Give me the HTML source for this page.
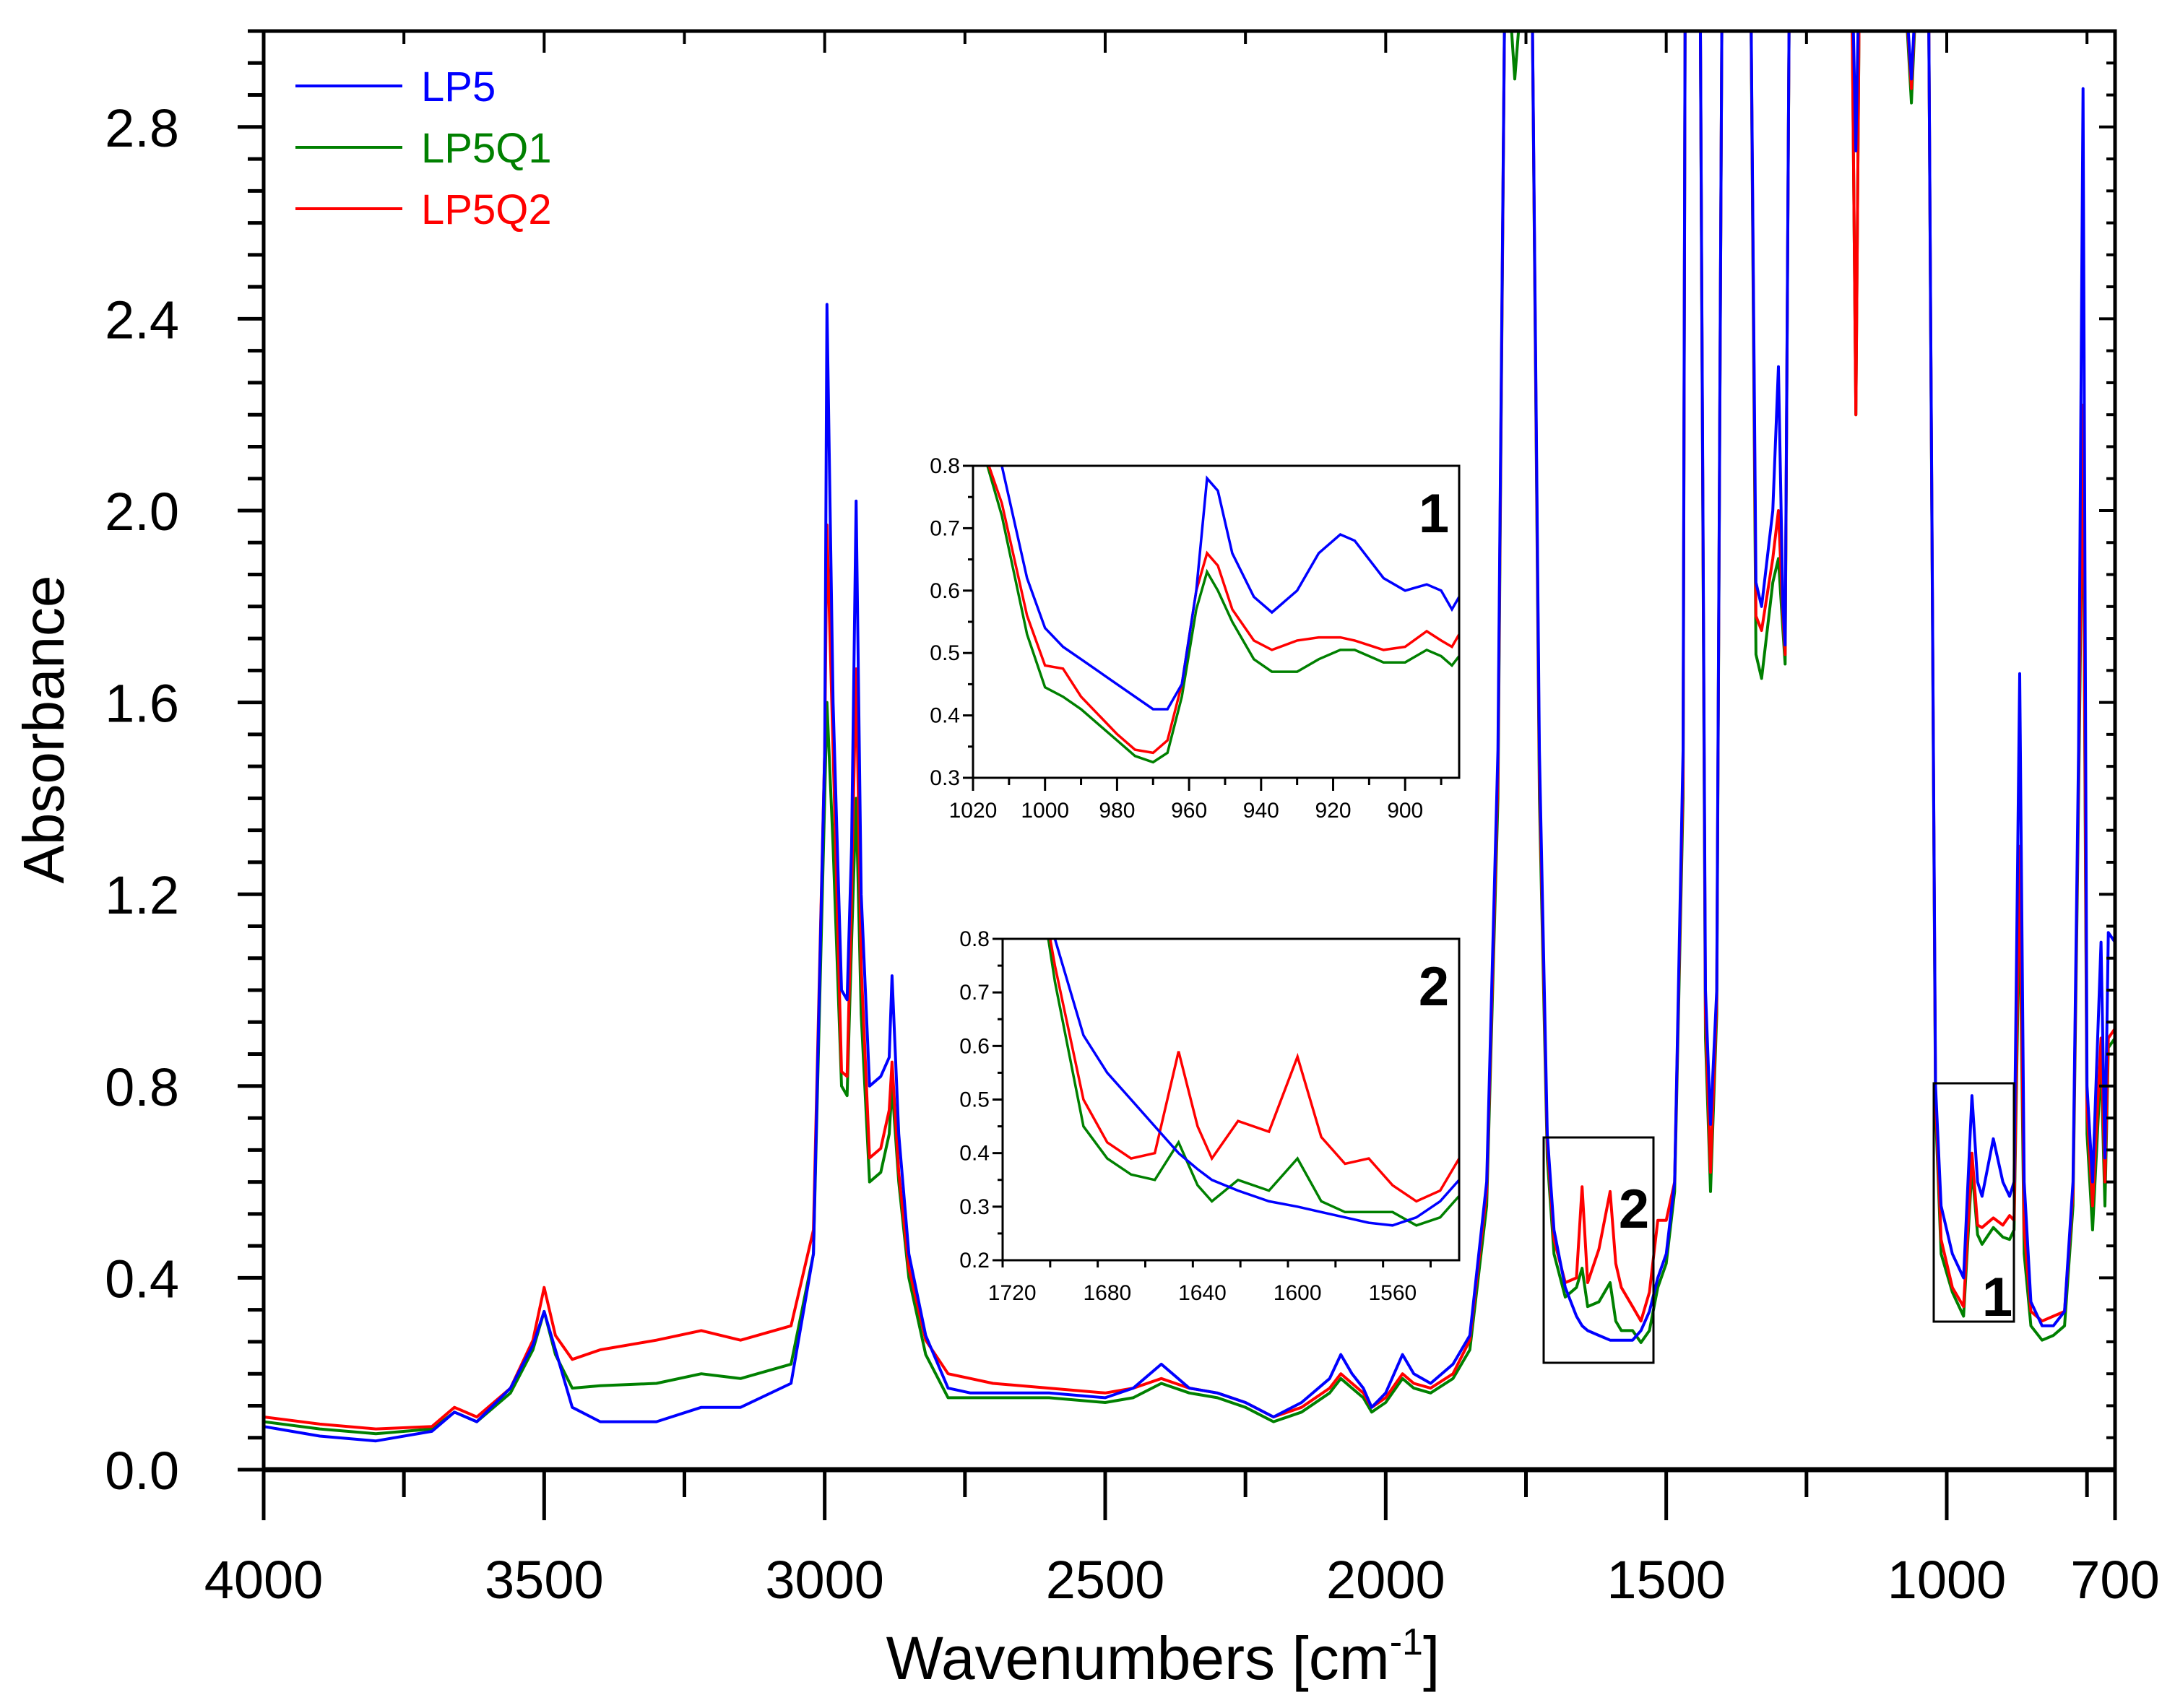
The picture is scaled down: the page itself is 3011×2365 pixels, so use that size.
<!DOCTYPE html>
<html><head><meta charset="utf-8"><style>
html,body{margin:0;padding:0;background:#fff}
svg{display:block;font-family:"Liberation Sans",Arial,sans-serif}
</style></head><body>
<svg id="chart" width="3011" height="2365" viewBox="0 0 3011 2365" xmlns="http://www.w3.org/2000/svg">
<rect width="3011" height="2365" fill="#fff"/>
<g id="main"></g>
</svg>
<script>
// ---- main chart data ----
const mainWn = [4000,3900,3800,3700,3660,3620,3560,3520,3500,3480,3450,3400,3300,3220,3150,3060,3020,3000,2996,2985,2970,2960,2952,2944,2935,2920,2900,2885,2880,2868,2850,2820,2780,2740,2700,2600,2500,2450,2400,2350,2300,2250,2200,2150,2100,2080,2060,2040,2025,2000,1970,1950,1920,1880,1850,1820,1800,1787,1770,1750,1740,1726,1712,1700,1680,1660,1650,1640,1620,1600,1590,1580,1560,1545,1530,1515,1500,1485,1470,1466,1440,1430,1421,1410,1400,1350,1340,1330,1310,1300,1292,1288,1280,1276,1200,1170,1162,1155,1080,1063,1050,1033,1020,1010,990,970,955,945,937,917,900,888,880,870,862,850,830,810,790,775,765,757,750,740,725,718,712,700];
const lp5 = [0.09,0.07,0.06,0.08,0.12,0.10,0.17,0.26,0.33,0.25,0.13,0.10,0.10,0.13,0.13,0.18,0.45,1.5,2.43,1.6,1.0,0.98,1.3,2.02,1.2,0.8,0.82,0.86,1.03,0.7,0.45,0.28,0.17,0.16,0.16,0.16,0.15,0.17,0.22,0.17,0.16,0.14,0.11,0.14,0.19,0.24,0.2,0.17,0.13,0.16,0.24,0.2,0.18,0.22,0.28,0.6,1.5,3.2,3.2,3.2,3.2,1.5,0.7,0.5,0.38,0.32,0.30,0.29,0.28,0.27,0.27,0.27,0.27,0.29,0.33,0.40,0.45,0.6,1.5,3.2,3.2,1.0,0.72,1.0,3.2,3.2,1.85,1.8,2.0,2.3,1.8,1.72,3.2,3.2,3.2,3.2,2.75,3.2,3.2,2.9,3.2,3.2,0.8,0.55,0.45,0.40,0.78,0.6,0.57,0.69,0.6,0.57,0.6,1.66,0.6,0.35,0.30,0.30,0.33,0.6,1.5,2.88,0.8,0.6,1.1,0.65,1.12,1.1];
const lp5q1 = [0.1,0.085,0.075,0.085,0.12,0.10,0.16,0.25,0.33,0.24,0.17,0.175,0.18,0.20,0.19,0.22,0.45,1.4,1.6,1.3,0.8,0.78,1.1,1.4,0.95,0.6,0.62,0.7,0.8,0.6,0.4,0.24,0.15,0.15,0.15,0.15,0.14,0.15,0.18,0.16,0.15,0.13,0.10,0.12,0.16,0.19,0.17,0.15,0.12,0.14,0.19,0.17,0.16,0.19,0.25,0.55,1.4,3.2,2.9,3.2,3.2,1.4,0.65,0.45,0.36,0.38,0.42,0.34,0.35,0.39,0.31,0.29,0.29,0.265,0.29,0.38,0.43,0.58,1.4,3.2,3.2,0.9,0.58,0.95,3.2,3.2,1.7,1.65,1.85,1.9,1.75,1.68,3.2,3.2,3.2,3.2,2.2,3.2,3.2,2.85,3.2,3.2,0.75,0.45,0.37,0.32,0.63,0.49,0.47,0.505,0.485,0.48,0.5,1.2,0.45,0.3,0.27,0.28,0.3,0.55,1.4,2.15,0.7,0.5,0.85,0.55,0.88,0.9];
const lp5q2 = [0.11,0.095,0.085,0.09,0.13,0.11,0.17,0.27,0.38,0.28,0.23,0.25,0.27,0.29,0.27,0.30,0.5,1.5,1.97,1.5,0.83,0.82,1.2,1.67,1.05,0.65,0.67,0.75,0.85,0.62,0.42,0.27,0.2,0.19,0.18,0.17,0.16,0.17,0.19,0.17,0.16,0.14,0.11,0.13,0.17,0.2,0.18,0.16,0.13,0.15,0.2,0.18,0.17,0.2,0.27,0.58,1.45,3.2,3.0,3.2,3.2,1.45,0.68,0.48,0.39,0.40,0.59,0.39,0.46,0.58,0.43,0.38,0.34,0.31,0.37,0.52,0.52,0.6,1.45,3.2,3.2,0.95,0.62,0.98,3.2,3.2,1.78,1.75,1.9,2.0,1.78,1.7,3.2,3.2,3.2,3.2,2.2,3.2,3.2,2.88,3.2,3.2,0.78,0.48,0.38,0.34,0.66,0.51,0.505,0.525,0.51,0.53,0.52,1.3,0.5,0.33,0.31,0.32,0.33,0.58,1.45,2.22,0.75,0.55,0.9,0.6,0.9,0.92];
const xTicks = [4000,3500,3000,2500,2000,1500,1000,700];
const yTicks = [0.0,0.4,0.8,1.2,1.6,2.0,2.4,2.8];
const seriesNames = ["LP5","LP5Q1","LP5Q2"];
const seriesColors = ["#0000ff","#008000","#ff0000"];
// ---- inset 1 data ----
const in1Wn = [1018,1012,1005,1000,995,990,980,975,970,966,962,958,955,952,948,942,937,930,924,918,914,906,900,894,890,887,885];
const in1Lp5 = [0.95,0.8,0.62,0.54,0.51,0.49,0.45,0.43,0.41,0.41,0.45,0.6,0.78,0.76,0.66,0.59,0.565,0.6,0.66,0.69,0.68,0.62,0.6,0.61,0.6,0.57,0.59];
const in1Lp5q1 = [0.84,0.72,0.53,0.445,0.43,0.41,0.36,0.335,0.325,0.34,0.43,0.57,0.63,0.6,0.55,0.49,0.47,0.47,0.49,0.505,0.505,0.485,0.485,0.505,0.495,0.48,0.495];
const in1Lp5q2 = [0.84,0.74,0.56,0.48,0.475,0.43,0.37,0.345,0.34,0.36,0.45,0.6,0.66,0.64,0.57,0.52,0.505,0.52,0.525,0.525,0.52,0.505,0.51,0.535,0.52,0.51,0.53];
const in1XTicks = [1020,1000,980,960,940,920,900];
const in1YTicks = [0.3,0.4,0.5,0.6,0.7,0.8];
// ---- inset 2 data ----
const in2Wn = [1710,1702,1690,1680,1670,1660,1650,1642,1636,1625,1612,1600,1590,1580,1570,1560,1550,1540,1532];
const in2Lp5 = [0.95,0.8,0.62,0.55,0.5,0.45,0.4,0.37,0.35,0.33,0.31,0.3,0.29,0.28,0.27,0.265,0.28,0.31,0.35];
const in2Lp5q1 = [0.95,0.72,0.45,0.39,0.36,0.35,0.42,0.34,0.31,0.35,0.33,0.39,0.31,0.29,0.29,0.29,0.265,0.28,0.32];
const in2Lp5q2 = [0.95,0.75,0.5,0.42,0.39,0.40,0.59,0.45,0.39,0.46,0.44,0.58,0.43,0.38,0.39,0.34,0.31,0.33,0.39];
const in2XTicks = [1720,1680,1640,1600,1560];
const in2YTicks = [0.2,0.3,0.4,0.5,0.6,0.7,0.8];

const NS="http://www.w3.org/2000/svg";
const svg=document.getElementById('chart');
function mk(tag,attrs,parent){const e=document.createElementNS(NS,tag);for(const k in attrs)e.setAttribute(k,attrs[k]);(parent||svg).appendChild(e);return e;}
function txt(s,attrs,parent){const e=mk('text',attrs,parent);e.textContent=s;return e;}

// main axes
const L=365,R=2928,T=43,B=2035;
const xMin=700,xMax=4000,yMin=0,yMax=3.0;
const sx=w=>L+(xMax-w)/(xMax-xMin)*(R-L);
const sy=v=>B-(v-yMin)/(yMax-yMin)*(B-T);
const defs=mk('defs',{});
const cp=mk('clipPath',{id:'clipMain'},defs);mk('rect',{x:L,y:T,width:R-L,height:B-T},cp);

const seriesMain=[lp5,lp5q1,lp5q2];
[1,2,0].forEach(i=>{
  const d=mainWn.map((w,j)=>(j?'L':'M')+sx(w).toFixed(1)+','+sy(seriesMain[i][j]).toFixed(1)).join('');
  const p=mk('path',{d:d,fill:'none',stroke:seriesColors[i],'stroke-width':4,'stroke-linejoin':'round','clip-path':'url(#clipMain)'});
  
  
});
// frame
const fr=mk('rect',{x:L,y:T,width:R-L,height:B-T,fill:'none',stroke:'#000','stroke-width':5});

mk('line',{x1:L,y1:B,x2:R,y2:B,stroke:'#000','stroke-width':7});
// x ticks
for(let w=4000;w>=700;w-=250){
  const major=(w%500===0);
  mk('line',{x1:sx(w),y1:B,x2:sx(w),y2:B+(major?70:38),stroke:'#000','stroke-width':5});
  mk('line',{x1:sx(w),y1:T,x2:sx(w),y2:T+(major?30:18),stroke:'#000','stroke-width':4});
}
mk('line',{x1:sx(700),y1:B,x2:sx(700),y2:B+70,stroke:'#000','stroke-width':5});
xTicks.forEach(w=>{
  const t=txt(String(w),{x:sx(w),y:2213,'font-size':74,'text-anchor':'middle'});
  
});
// y ticks
for(let k=0;k<=45;k++){
  const v=k*0.4/6; if(v>3.0001)break;
  const major=(k%6===0);
  mk('line',{x1:L,y1:sy(v),x2:L-(major?36:22),y2:sy(v),stroke:'#000','stroke-width':5});
  mk('line',{x1:R,y1:sy(v),x2:R-(major?22:12),y2:sy(v),stroke:'#000','stroke-width':4});
}
yTicks.forEach(v=>{
  const t=txt(v.toFixed(1),{x:248,y:sy(v)+27,'font-size':74,'text-anchor':'end'});
  
});
const yt=txt('Absorbance',{x:0,y:0,'font-size':80,'text-anchor':'middle',transform:'translate(88,1010) rotate(-90)'});

const xt=mk('text',{x:1610,y:2325,'font-size':84,'text-anchor':'middle'});

xt.innerHTML='Wavenumbers [cm<tspan dy="-34" font-size="52">-1</tspan><tspan dy="34">]</tspan>';

// legend
seriesNames.forEach((n,i)=>{
  const y=119+i*85;
  const g=mk('g',{});
  
  
  mk('line',{x1:409,y1:y,x2:557,y2:y,stroke:seriesColors[i],'stroke-width':4},g);
  txt(n,{x:583,y:y+21,'font-size':58,fill:seriesColors[i]},g);
});

// region boxes
const b2=mk('rect',{x:2137,y:1575,width:152,height:312,fill:'none',stroke:'#000','stroke-width':3});

const b1=mk('rect',{x:2677,y:1500,width:111,height:330,fill:'none',stroke:'#000','stroke-width':3});

txt('2',{x:2262,y:1700,'font-size':76,'font-weight':'bold','text-anchor':'middle'});
txt('1',{x:2765,y:1822,'font-size':76,'font-weight':'bold','text-anchor':'middle'});

// insets
function inset(id,box,xr,yr,wn,series,xt,minorX,yt,minorY,label){
  const g=mk('g',{});
  
  
  const [x0,y0,x1,y1]=box;
  const fx=w=>x0+(xr[0]-w)/(xr[0]-xr[1])*(x1-x0);
  const fy=v=>y1-(v-yr[0])/(yr[1]-yr[0])*(y1-y0);
  const c=mk('clipPath',{id:'clip'+id},defs);mk('rect',{x:x0,y:y0,width:x1-x0,height:y1-y0},c);
  mk('rect',{x:x0,y:y0,width:x1-x0,height:y1-y0,fill:'#fff'},g);
  [1,2,0].forEach(i=>{
    const d=wn.map((w,j)=>(j?'L':'M')+fx(w).toFixed(1)+','+fy(series[i][j]).toFixed(1)).join('');
    const p=mk('path',{d:d,fill:'none',stroke:seriesColors[i],'stroke-width':3.5,'clip-path':'url(#clip'+id+')'},g);
    
    
  });
  mk('rect',{x:x0,y:y0,width:x1-x0,height:y1-y0,fill:'none',stroke:'#000','stroke-width':3},g);
  for(let w=xr[0];w>=xr[1];w-=minorX){
    const major=xt.includes(w);
    mk('line',{x1:fx(w),y1:y1,x2:fx(w),y2:y1+(major?18:10),stroke:'#000','stroke-width':3},g);
  }
  xt.forEach(w=>txt(String(w),{x:fx(w),y:y1+55,'font-size':30,'text-anchor':'middle'},g));
  for(let v=yr[0];v<=yr[1]+1e-6;v+=minorY){
    const major=yt.some(t=>Math.abs(t-v)<1e-6);
    mk('line',{x1:x0,y1:fy(v),x2:x0-(major?14:7),y2:fy(v),stroke:'#000','stroke-width':3},g);
  }
  yt.forEach(v=>txt(v.toFixed(1),{x:x0-18,y:fy(v)+10,'font-size':30,'text-anchor':'end'},g));
  txt(label,{x:x1-35,y:y0+92,'font-size':76,'font-weight':'bold','text-anchor':'middle'},g);
}
inset('1',[1347,645,2020,1077],[1020,885],[0.3,0.8],in1Wn,[in1Lp5,in1Lp5q1,in1Lp5q2],in1XTicks,10,in1YTicks,0.05,'1');
inset('2',[1388,1300,2020,1745],[1724,1532],[0.2,0.8],in2Wn,[in2Lp5,in2Lp5q1,in2Lp5q2],in2XTicks,20,in2YTicks,0.05,'2');
</script>
</body></html>
